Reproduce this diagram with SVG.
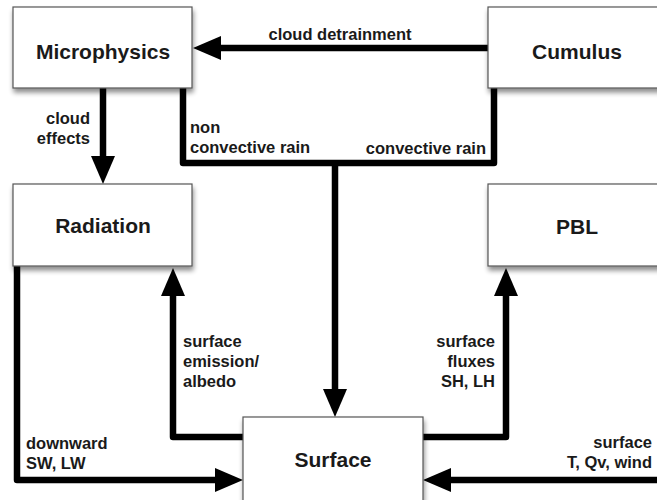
<svg xmlns="http://www.w3.org/2000/svg" width="657" height="500" viewBox="0 0 657 500">
<style>
.box{fill:#fff;stroke:#555;stroke-width:1.2}
.nt{font-family:"Liberation Sans",Arial,sans-serif;font-weight:bold;font-size:21px;fill:#1a1a1a;text-anchor:middle}
.lb{font-family:"Liberation Sans",Arial,sans-serif;font-weight:bold;font-size:16.5px;fill:#1a1a1a}
.e{text-anchor:end}
.c{text-anchor:middle}
.ln{fill:none;stroke:#000;stroke-width:6.5;stroke-linejoin:round}
</style>
<defs>
<filter id="sh" x="-10%" y="-10%" width="130%" height="140%">
<feGaussianBlur in="SourceAlpha" stdDeviation="2.5"/>
<feOffset dx="1" dy="4" result="b"/>
<feComponentTransfer><feFuncA type="linear" slope="0.45"/></feComponentTransfer>
<feMerge><feMergeNode/><feMergeNode in="SourceGraphic"/></feMerge>
</filter>
<marker id="ah" markerUnits="userSpaceOnUse" markerWidth="30" markerHeight="26" refX="0" refY="12" orient="auto" overflow="visible">
<path d="M0,0 L28,12 L0,24 z" fill="#000"/>
</marker>
</defs>
<rect width="657" height="500" fill="#fff"/>
<g id="connectors">
<path class="ln" d="M488,48 L221,48" marker-end="url(#ah)"/>
<path class="ln" d="M103,88 L103,156" marker-end="url(#ah)"/>
<path class="ln" d="M183,88 L183,163 L494,163 L494,88"/>
<path class="ln" d="M335,163 L335,389" marker-end="url(#ah)"/>
<path class="ln" d="M17,266 L17,480 L215,480" marker-end="url(#ah)"/>
<path class="ln" d="M243,437 L173,437 L173,296" marker-end="url(#ah)"/>
<path class="ln" d="M423,437 L506,437 L506,296" marker-end="url(#ah)"/>
<path class="ln" d="M660,480 L451,480" marker-end="url(#ah)"/>
<text class="lb c" x="340" y="40">cloud detrainment</text>
<text class="lb e" x="90" y="124">cloud</text>
<text class="lb e" x="90" y="144">effects</text>
<text class="lb" x="190" y="133">non</text>
<text class="lb" x="190" y="153">convective rain</text>
<text class="lb e" x="486" y="154">convective rain</text>
<text class="lb" x="183" y="347">surface</text>
<text class="lb" x="183" y="367">emission/</text>
<text class="lb" x="183" y="387">albedo</text>
<text class="lb e" x="495" y="347">surface</text>
<text class="lb e" x="495" y="367">fluxes</text>
<text class="lb e" x="495" y="387">SH, LH</text>
<text class="lb" x="26" y="449">downward</text>
<text class="lb" x="26" y="469">SW, LW</text>
<text class="lb e" x="652" y="448">surface</text>
<text class="lb e" x="652" y="468">T, Qv, wind</text>
</g>
<g id="microphysics"><rect class="box" x="13" y="7" width="179" height="81" filter="url(#sh)"/><text class="nt" x="103" y="59">Microphysics</text></g>
<g id="cumulus"><rect class="box" x="488" y="7" width="180" height="81" filter="url(#sh)"/><text class="nt" x="577" y="59">Cumulus</text></g>
<g id="radiation"><rect class="box" x="13" y="184" width="179" height="82" filter="url(#sh)"/><text class="nt" x="103" y="233">Radiation</text></g>
<g id="pbl"><rect class="box" x="488" y="184" width="180" height="82" filter="url(#sh)"/><text class="nt" x="577" y="234">PBL</text></g>
<g id="surface"><rect class="box" x="243" y="417" width="180" height="92" filter="url(#sh)"/><text class="nt" x="333" y="467">Surface</text></g>
</svg>
